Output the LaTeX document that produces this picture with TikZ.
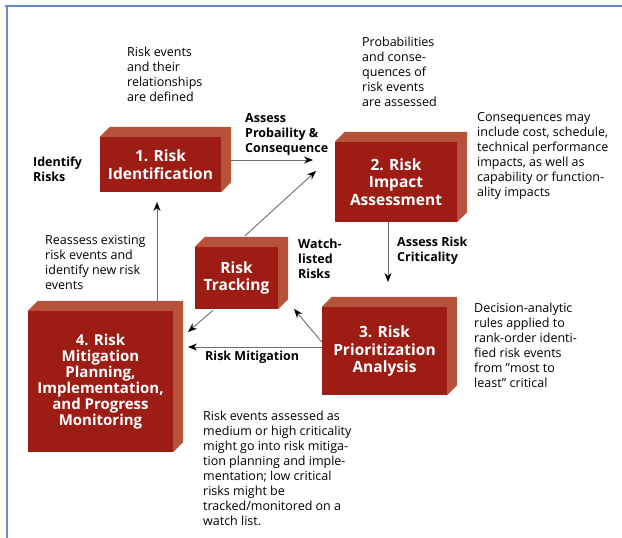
\documentclass[tikz,border=0pt]{standalone}
\usepackage{fontspec}
\setmainfont{Open Sans}
\usepackage{tikz}
\usetikzlibrary{arrows.meta}
\definecolor{frontred}{RGB}{157,29,20}
\definecolor{sidered}{RGB}{183,82,58}
\definecolor{linegray}{RGB}{110,110,110}
\definecolor{frameblue}{RGB}{98,142,206}
\def\boxsides#1{%                                  % top and right face of a box
  \fill[sidered] (#1.north west) -- ++(10,-10) -- ([shift={(10,-10)}]#1.north east)
    -- ([shift={(10,-10)}]#1.south east) -- (#1.south east) -- (#1.north east) -- cycle;}
\def\sq{{\char34}}                                 % straight double quote
\tikzset{
  riskbox/.style={fill=frontred, text=white, align=center, inner sep=2pt,
    font=\fontsize{15.5}{17.5}\selectfont\bfseries},
  note/.style={anchor=north west, align=left, inner sep=0pt,
    font=\fontsize{12.5}{15}\selectfont},
  cue/.style={note, font=\fontsize{12.5}{15}\selectfont\bfseries},
  flow/.style={draw=linegray, line width=0.9pt, -{Stealth[black,length=9pt,width=7pt]}},
}
\begin{document}
\begin{tikzpicture}[x=1pt, y=-1pt]
    \useasboundingbox (0,0) rectangle (622,538);
    % frame of the screenshot
    \draw[frameblue, line width=2pt] (5,6) -- (622,6);
    \draw[frameblue, line width=2pt] (7,5) -- (7,538);

    % the five steps
    \node[riskbox, minimum width=121pt, minimum height=55pt] (ident) at (160.5,164.5) {1. Risk\\Identification};
    \node[riskbox, minimum width=122pt, minimum height=80pt] (impact) at (396,182) {2. Risk\\Impact\\Assessment};
    \node[riskbox, minimum width=83pt, minimum height=62pt] (track) at (236.5,278) {Risk\\Tracking};
    \node[riskbox, minimum width=125pt, minimum height=88pt] (prio) at (384.5,351) {3. Risk\\Prioritization\\Analysis};
    \node[riskbox, minimum width=145pt, minimum height=141pt,
          font=\fontsize{15}{16}\selectfont\bfseries] (mitig) at (100.5,381.5)
          {4. Risk\\Mitigation\\Planning,\\Implementation,\\and Progress\\Monitoring};
    \boxsides{ident}
    \boxsides{impact}
    \boxsides{track}
    \boxsides{prio}
    \boxsides{mitig}

    % free ends of the arrows
    \coordinate (pcend) at (313,160);
    \coordinate (watchend) at (316,171);
    \coordinate (critend) at (388,282);
    \coordinate (backend) at (294,309);
    \coordinate (mitend) at (188,347);
    \coordinate (lowend) at (188,332);
    \coordinate (reend) at (157,202);

    \draw[flow] ([shift={(10,-4.5)}]ident.east) -- (pcend);
    \draw[flow] ([shift={(8.5,-11)}]track.north) -- (watchend);
    \draw[flow] ([xshift=-8pt]impact.south) -- (critend);
    \draw[flow] ([shift={(0,-9)}]prio.west) -- (backend);
    \draw[flow] ([shift={(0,-4)}]prio.west) -- (mitend);
    \draw[flow] ([shift={(-23.5,1)}]track.south) -- (lowend);
    \draw[flow] (mitig.north -| reend) ++(0,-2) -- (reend);

    % labels and notes
    \node[note] (events) at (127,47) {Risk events\\and their\\relationships\\are defined};
    \node[note] (probs) at (362,37) {Probabilities\\and conse-\\quences of\\risk events\\are assessed};
    \node[note] (conseq) at (477,112) {Consequences may\\include cost, schedule,\\technical performance\\impacts, as well as\\capability or function-\\ality impacts};
    \node[cue] (assesspc) at (245,113) {Assess\\Probaility \&\\Consequence};
    \node[cue] (identify) at (33,157) {Identify\\Risks};
    \node[note] (reassess) at (45,235) {Reassess existing\\risk events and\\identify new risk\\events};
    \node[cue] (watch) at (298,239) {Watch-\\listed\\Risks};
    \node[cue] (critlabel) at (397,237) {Assess Risk\\Criticality};
    \node[note] (decision) at (474,303) {Decision-analytic\\rules applied to\\rank-order identi-\\fied risk events\\from \sq most to\\least\sq\ critical};
    \node[cue] (mitlabel) at (205,351) {Risk Mitigation};
    \node[note] (lowcrit) at (203,411) {Risk events assessed as\\medium or high criticality\\might go into risk mitiga-\\tion planning and imple-\\mentation; low critical\\risks might be\\tracked/monitored on a\\watch list.};
\end{tikzpicture}
\end{document}
